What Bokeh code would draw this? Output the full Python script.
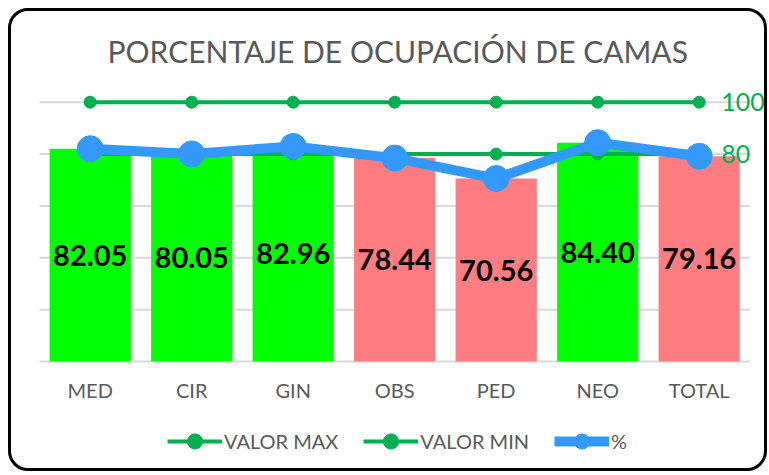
from bokeh.plotting import figure
from bokeh.models import ColumnDataSource, Legend, LegendItem, LabelSet, Label, Range1d
from bokeh.core.properties import value
from bokeh.embed import file_html
from bokeh.resources import INLINE

# ---- data ----
categories = ["MED", "CIR", "GIN", "OBS", "PED", "NEO", "TOTAL"]
percent = [82.05, 80.05, 82.96, 78.44, 70.56, 84.40, 79.16]
valor_max = [100, 100, 100, 100, 100, 100, 100]
valor_min = [80, 80, 80, 80, 80, 80, 80]
y_ticks = [0, 20, 40, 60, 80, 100]
title_text = "PORCENTAJE DE OCUPACIÓN DE CAMAS"
legend_labels = ["VALOR MAX", "VALOR MIN", "%"]

GREEN_BAR = "#00FF00"
PINK_BAR = "#FF7C80"
GREEN_LINE = "#00B050"
BLUE = "#3399FF"
GRAY_TXT = "#595959"
GRID = "#D9D9D9"
FONT = "Lato"

n = len(categories)
xs = list(range(n))
colors = [GREEN_BAR if v >= valor_min[i] else PINK_BAR for i, v in enumerate(percent)]

src = ColumnDataSource(dict(
    x=xs,
    cat=categories,
    base=[0] * n,
    pct=percent,
    mid=[v / 2 for v in percent],
    lbl=[f"{v:.2f}" for v in percent],
    vmax=valor_max,
    vmin=valor_min,
    color=colors,
))

W, H = 759, 463
p = figure(x_range=Range1d(-0.7754, 6.7025), y_range=Range1d(-43.58, 134.98),
           width=W, height=H, output_backend="svg", toolbar_location=None,
           x_axis_location=None, y_axis_location=None,
           min_border_left=0, min_border_right=0, min_border_top=0, min_border_bottom=0)
p.outline_line_color = None
p.border_fill_color = None
p.background_fill_color = None
p.xgrid.grid_line_color = None
p.ygrid.grid_line_color = None
p.styles = {"border": "3px solid black", "border-radius": "20px",
            "margin-left": "8px", "margin-top": "8px"}

# horizontal grid lines (incl. the base line) over the category band
grid_src = ColumnDataSource(dict(
    x0=[-0.5] * len(y_ticks), x1=[n - 0.5] * len(y_ticks), y=y_ticks))
p.segment(x0="x0", x1="x1", y0="y", y1="y", source=grid_src, line_color=GRID, line_width=2)

# category tick labels under the base line
p.add_layout(LabelSet(x="x", y="base", text="cat", source=src, y_offset=-29,
                      text_align="center", text_baseline="middle", text_font=value(FONT),
                      text_font_size="20px", text_color=GRAY_TXT))

# bars
p.vbar(x="x", top="pct", width=0.8, fill_color="color", line_color=None, source=src)

p.add_layout(LabelSet(x="x", y="mid", text="lbl", source=src, text_align="center",
                      text_baseline="middle", text_font=value(FONT), text_font_style="bold",
                      text_font_size="29px", text_color="black"))

# lines
l_min = p.line(x="x", y="vmin", source=src, line_color=GREEN_LINE, line_width=4)
s_min = p.scatter(x="x", y="vmin", source=src, size=12, fill_color=GREEN_LINE, line_color=GREEN_LINE)
l_max = p.line(x="x", y="vmax", source=src, line_color=GREEN_LINE, line_width=4)
s_max = p.scatter(x="x", y="vmax", source=src, size=12, fill_color=GREEN_LINE, line_color=GREEN_LINE)
l_pct = p.line(x="x", y="pct", source=src, line_color=BLUE, line_width=10)
s_pct = p.scatter(x="x", y="pct", source=src, size=26, fill_color=BLUE, line_color=BLUE)

# end labels for max / min
end_src = ColumnDataSource(dict(
    x=[xs[-1], xs[-1]],
    y=[valor_max[-1], valor_min[-1]],
    t=[str(valor_max[-1]), str(valor_min[-1])],
))
p.add_layout(LabelSet(x="x", y="y", text="t", source=end_src, x_offset=22,
                      text_baseline="middle", text_align="left", text_font=value(FONT),
                      text_font_size="25px", text_color=GREEN_LINE))

# title
p.add_layout(Label(x=3.03, y=119.9, text=title_text, text_align="center", text_baseline="middle",
                   text_font=FONT, text_font_size="30px", text_color=GRAY_TXT))

legend = Legend(items=[
    LegendItem(label=legend_labels[0], renderers=[l_max, s_max]),
    LegendItem(label=legend_labels[1], renderers=[l_min, s_min]),
    LegendItem(label=legend_labels[2], renderers=[l_pct, s_pct]),
], orientation="horizontal", location=(156, 14))
legend.label_text_font = FONT
legend.label_text_font_size = "20px"
legend.label_text_color = GRAY_TXT
legend.glyph_width = 55
legend.glyph_height = 38
legend.label_standoff = 2
legend.spacing = 25
legend.padding = 0
legend.margin = 0
legend.border_line_color = None
legend.background_fill_alpha = 0
p.add_layout(legend)

open("out.html", "w").write(file_html(p, INLINE))
